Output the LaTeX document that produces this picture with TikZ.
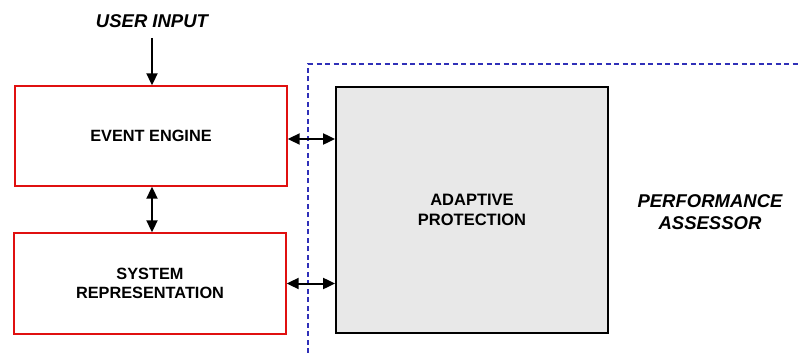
\documentclass[tikz,border=0pt]{standalone}
\usepackage{fontspec}
\setmainfont{Liberation Sans}
\usetikzlibrary{arrows.meta}
\definecolor{boxred}{HTML}{E01010}
\definecolor{dashblue}{HTML}{3030B8}
\definecolor{apfill}{HTML}{E8E8E8}
\tikzset{
  redbox/.style={draw=boxred, line width=1.4pt, minimum width=272pt, inner sep=0pt,
    align=center, font=\fontsize{16.3}{19.7}\selectfont\bfseries},
  greybox/.style={draw=black, line width=1.8pt, fill=apfill, minimum width=272pt,
    minimum height=246pt, inner sep=0pt, align=center,
    font=\fontsize{16.5}{19.3}\selectfont\bfseries},
  biglabel/.style={inner sep=0pt, align=center,
    font=\fontsize{18.5}{21.7}\selectfont\bfseries\itshape},
  link/.style={line width=2pt, -{Triangle[length=12pt,width=11pt]}},
  duallink/.style={line width=2pt, {Triangle[length=12pt,width=11pt]}-{Triangle[length=12pt,width=11pt]}},
  boundary/.style={draw=dashblue, line width=1.1pt, dash pattern=on 5pt off 3.5pt}
}
\begin{document}
\begin{tikzpicture}[x=1pt,y=-1pt]
  \useasboundingbox (0,0) rectangle (800,353);
  % performance assessor boundary
  \coordinate (b1) at (308,353);
  \coordinate (b2) at (308,64);
  \coordinate (b3) at (800,64);
  \draw[boundary] (b1) -- (b2) -- (b3);
  % blocks
  \node[redbox, minimum height=100pt] (ee) at (151,136) {EVENT ENGINE};
  \node[redbox, minimum height=101pt] (sr) at (150,283.5) {SYSTEM\\REPRESENTATION};
  \node[greybox] (ap) at (472,210) {ADAPTIVE\\PROTECTION};
  % labels
  \node[biglabel] (ui) at (152,21) {USER INPUT};
  \node[biglabel] (pa) at (710,212) {PERFORMANCE\\ASSESSOR};
  % connectors
  \draw[link] (ui.south |- 0,38) -- (ui.south |- ee.north);
  \draw[duallink] (ee.south -| 152,0) -- (sr.north -| 152,0);
  \draw[duallink] ([yshift=-3pt]ee.east) -- ([yshift=-3pt]ee.east -| ap.west);
  \draw[duallink] (sr.east) -- (sr.east -| ap.west);
\end{tikzpicture}
\end{document}
